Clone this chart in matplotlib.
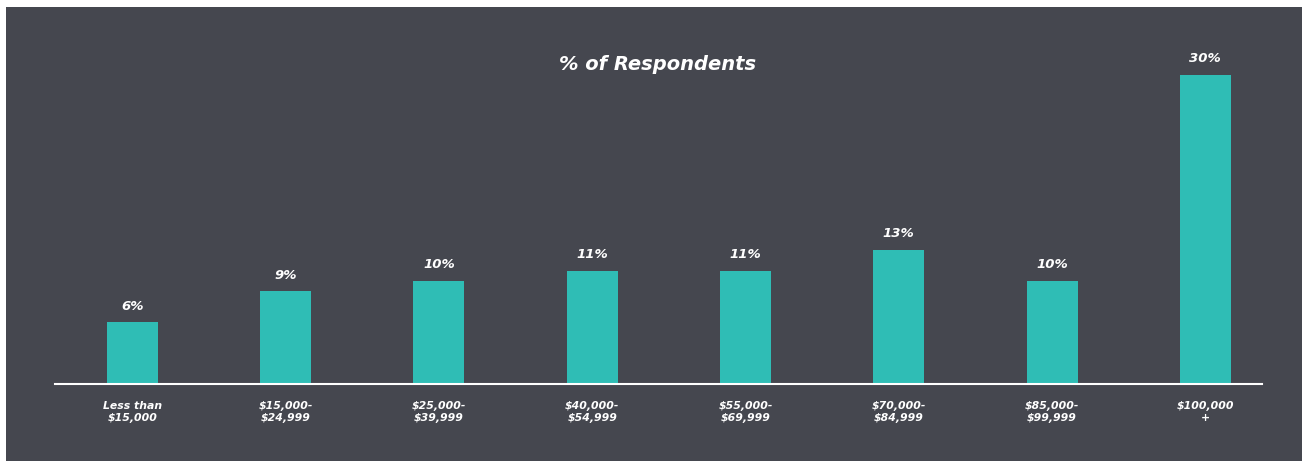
import matplotlib.pyplot as plt
from matplotlib.patches import Rectangle

# dados do grafico
categories = ['Less than\n$15,000', '$15,000-\n$24,999', '$25,000-\n$39,999', '$40,000-\n$54,999',
              '$55,000-\n$69,999', '$70,000-\n$84,999', '$85,000-\n$99,999', '$100,000\n+']
percent = [6, 9, 10, 11, 11, 13, 10, 30]
value_labels = ['6%', '9%', '10%', '11%', '11%', '13%', '10%', '30%']

bg = '#45474f'
teal = '#2fbdb5'
font = ['DejaVu Sans']

fig = plt.figure(figsize=(13.1, 4.61), dpi=100, facecolor='white')
# painel escuro
fig.patches.append(Rectangle((6 / 1310, 0), 1296 / 1310, 454 / 461, transform=fig.transFigure,
                             facecolor=bg, edgecolor='none', zorder=-1))

ax = fig.add_axes([55 / 1310, 77 / 461, 1207 / 1310, 0.804])
ax.set_zorder(2)
ax.set_facecolor('none')
x = range(len(categories))
bars = ax.bar(x, percent, width=0.333, color=teal, zorder=2)

for b, lab in zip(bars, value_labels):
    ax.annotate(lab, (b.get_x() + b.get_width() / 2, b.get_height()), xytext=(0, 7),
                textcoords='offset points', ha='center', va='bottom', color='white',
                fontsize=9.5, fontweight='bold', fontstyle='italic', family=font)

ax.set_xlim(-0.505, 7.37)
ax.set_ylim(0, 36)
ax.set_xticks(list(x))
ax.set_xticklabels(categories, color='white', fontsize=7.8, fontweight='bold',
                   fontstyle='italic', family=font, linespacing=1.35)
ax.tick_params(axis='x', length=0, pad=12)
ax.set_yticks([])
for s in ['top', 'left', 'right']:
    ax.spines[s].set_visible(False)
ax.spines['bottom'].set_color('white')
ax.spines['bottom'].set_linewidth(1.5)

fig.text(658 / 1310, 1 - 65 / 461, '% of Respondents', ha='center', va='center', color='white',
         fontsize=14, fontweight='bold', fontstyle='italic', family=font, zorder=3)

plt.savefig('out.png', dpi=100, facecolor=fig.get_facecolor())
